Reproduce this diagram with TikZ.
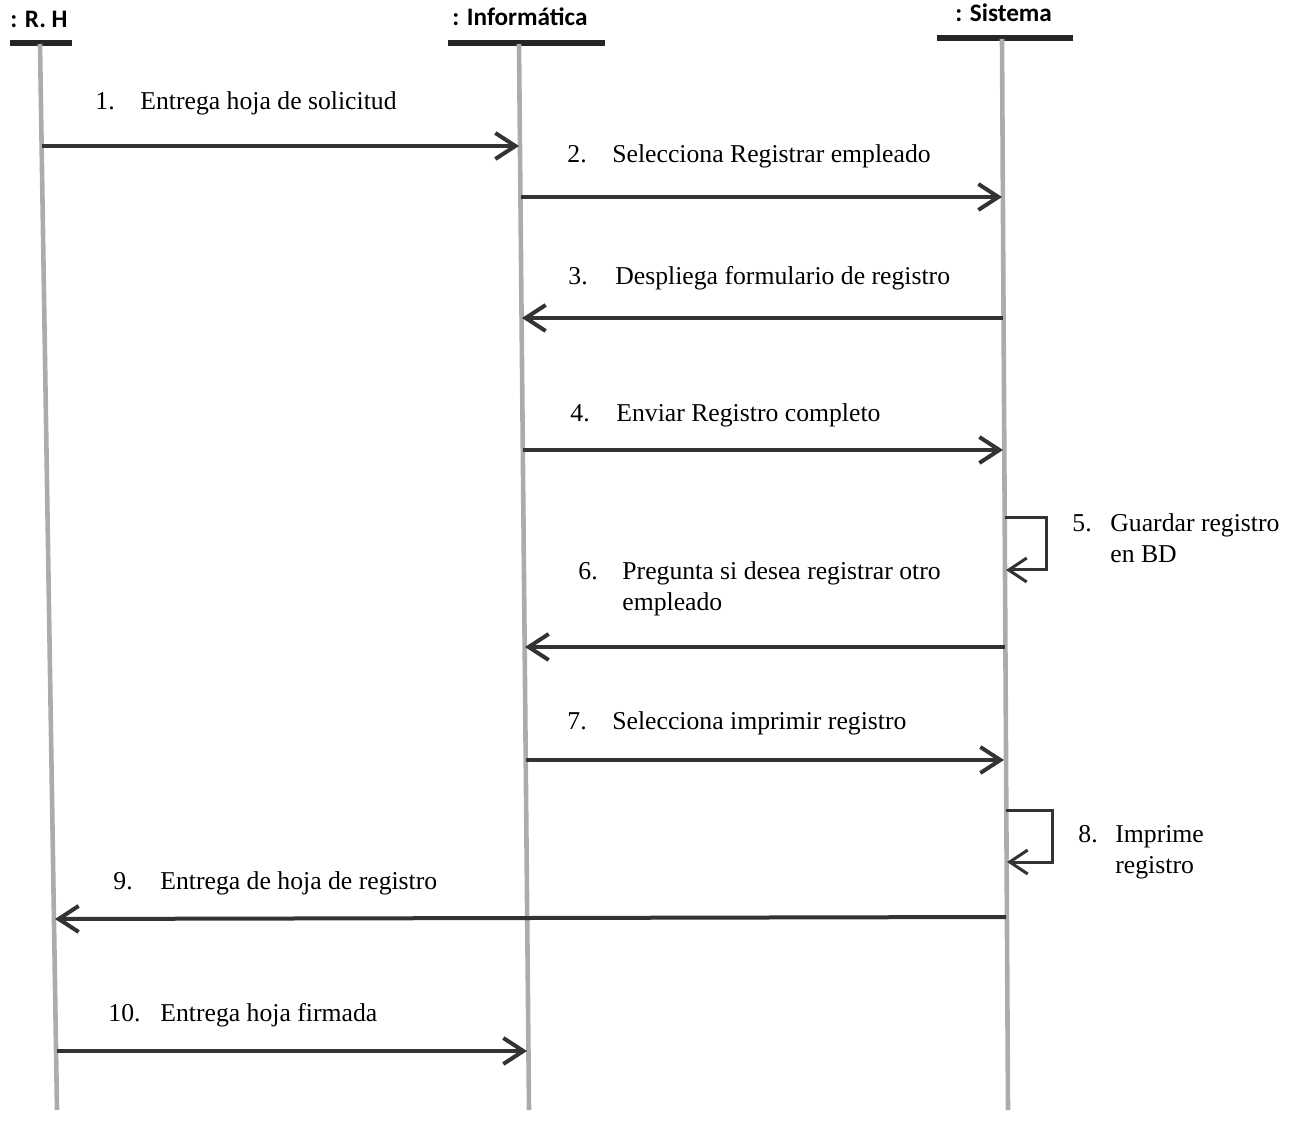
\documentclass[tikz,border=0pt]{standalone}
\usepackage{fontspec}
\setmainfont{Liberation Serif}
\newfontfamily\headfont{Carlito}
\usetikzlibrary{arrows.meta}

\tikzset{
  lifeline/.style={gray!65,line width=2.3pt},
  headbar/.style={black!85,line width=2.8pt},
  message/.style={black!80,line width=2pt,-{Straight Barb[length=10pt,width=13pt]}},
  selfmsg/.style={black!80,line width=1.5pt,-{Straight Barb[length=9pt,width=12pt]}},
  headtext/.style={font=\headfont\bfseries\fontsize{12.6}{14}\selectfont},
  msgtext/.style={font=\fontsize{12.85}{15.5}\selectfont,inner sep=0pt}
}
\newcommand{\msgnum}[3]{\begin{tabular}[t]{@{}p{#1}@{}l@{}}#2 & #3\end{tabular}}

\begin{document}
\begin{tikzpicture}[x=0.5pt,y=-0.5pt]
    \useasboundingbox (0,0) rectangle (1296,1122);

    %draw heads
    \draw (10,28) node (rh) [headtext,anchor=base west,inner sep=0pt] {: R. H};
    \draw (452,26) node (inf) [headtext,anchor=base west,inner sep=0pt] {: Informática};
    \draw (955,22) node (sis) [headtext,anchor=base west,inner sep=0pt] {: Sistema};

    \draw[headbar] (10,43) -- (72,43);
    \draw[headbar] (448,43) -- (605,43);
    \draw[headbar] (937,38) -- (1073,38);

    %draw lifelines
    \coordinate (rhtop) at (40,44);
    \coordinate (rhbot) at (57,1110);
    \coordinate (inftop) at (519,44);
    \coordinate (infbot) at (529,1110);
    \coordinate (sistop) at (1002,39);
    \coordinate (sisbot) at (1008,1110);
    \draw[lifeline] (rhtop) -- (rhbot);
    \draw[lifeline] (inftop) -- (infbot);
    \draw[lifeline] (sistop) -- (sisbot);

    %message ends
    \coordinate (rh1) at (42,146);   \coordinate (inf1) at (519,146);
    \coordinate (inf2) at (521,197); \coordinate (sis2) at (1002,197);
    \coordinate (sis3) at (1003,318); \coordinate (inf3) at (522,318);
    \coordinate (inf4) at (523,450); \coordinate (sis4) at (1003,450);
    \coordinate (sis5a) at (1005,518); \coordinate (loop5a) at (1046,518);
    \coordinate (loop5b) at (1046,570); \coordinate (sis5b) at (1006,570);
    \coordinate (sis6) at (1005,647); \coordinate (inf6) at (525,647);
    \coordinate (inf7) at (526,760); \coordinate (sis7) at (1004,760);
    \coordinate (sis8a) at (1006,810); \coordinate (loop8a) at (1052,810);
    \coordinate (loop8b) at (1052,862); \coordinate (sis8b) at (1007,862);
    \coordinate (sis9) at (1006,917); \coordinate (rh9) at (55,919);
    \coordinate (rh10) at (57,1051); \coordinate (inf10) at (527,1051);

    %draw messages
    \draw[message] (rh1) -- (inf1);
    \draw[message] (inf2) -- (sis2);
    \draw[message] (sis3) -- (inf3);
    \draw[message] (inf4) -- (sis4);
    \draw[selfmsg] (sis5a) -- (loop5a) -- (loop5b) -- (sis5b);
    \draw[message] (sis6) -- (inf6);
    \draw[message] (inf7) -- (sis7);
    \draw[selfmsg] (sis8a) -- (loop8a) -- (loop8b) -- (sis8b);
    \draw[message] (sis9) -- (rh9);
    \draw[message] (rh10) -- (inf10);

    %draw message labels
    \draw (95,110) node (l1) [msgtext,anchor=base west] {\msgnum{22.5pt}{1.}{Entrega hoja de solicitud}};
    \draw (567,163) node (l2) [msgtext,anchor=base west] {\msgnum{22.5pt}{2.}{Selecciona Registrar empleado}};
    \draw (568,285) node (l3) [msgtext,anchor=base west] {\msgnum{23.5pt}{3.}{Despliega formulario de registro}};
    \draw (570,422) node (l4) [msgtext,anchor=base west] {\msgnum{23pt}{4.}{Enviar Registro completo}};
    \draw (1072,532) node (l5) [msgtext,anchor=base west] {\msgnum{19pt}{5.}{Guardar registro\\ & en BD}};
    \draw (578,580) node (l6) [msgtext,anchor=base west] {\msgnum{22pt}{6.}{Pregunta si desea registrar otro\\ & empleado}};
    \draw (567,729) node (l7) [msgtext,anchor=base west] {\msgnum{22.5pt}{7.}{Selecciona imprimir registro}};
    \draw (1078,842) node (l8) [msgtext,anchor=base west] {\msgnum{18.5pt}{8.}{Imprime\\ & registro}};
    \draw (113,889) node (l9) [msgtext,anchor=base west] {\msgnum{23.5pt}{9.}{Entrega de hoja de registro}};
    \draw (108,1021) node (l10) [msgtext,anchor=base west] {\msgnum{26pt}{10.}{Entrega hoja firmada}};

\end{tikzpicture}
\end{document}
